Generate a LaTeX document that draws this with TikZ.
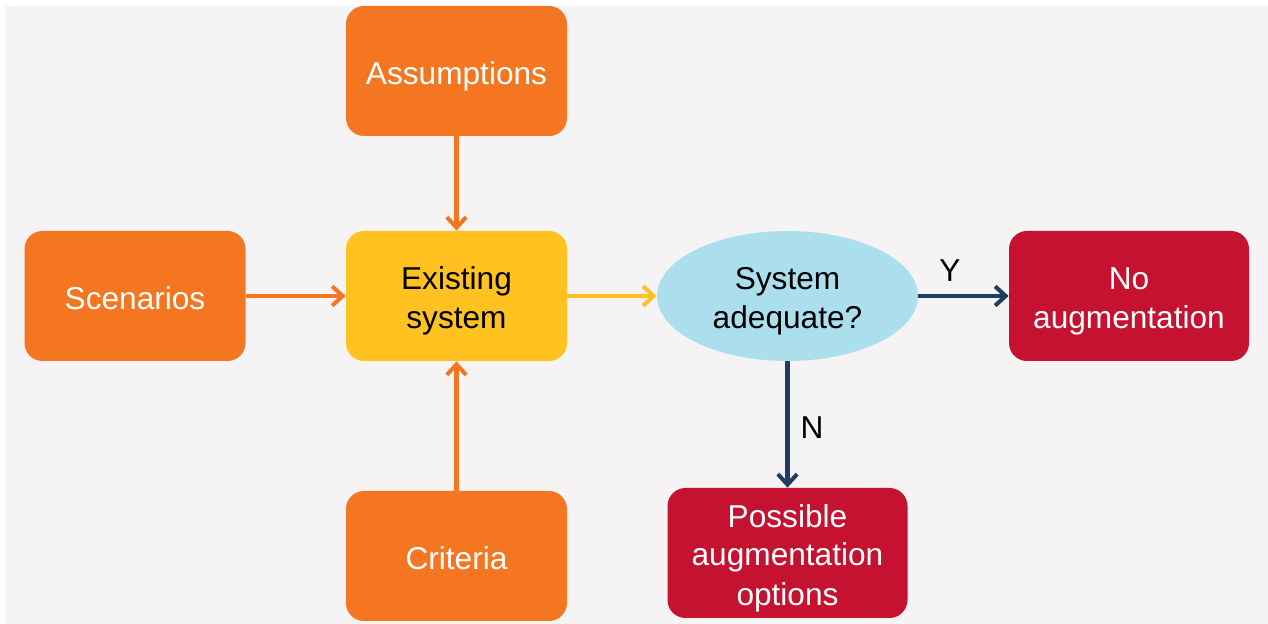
\documentclass[tikz,border=0pt]{standalone}
\usepackage{fontspec}
\setmainfont{Liberation Sans}
\usepackage{array}
\usepackage{tikz}
\usetikzlibrary{shapes,arrows.meta}
\definecolor{InOrange}{RGB}{244,118,33}
\definecolor{SysYellow}{RGB}{255,194,33}
\definecolor{AskBlue}{RGB}{172,223,237}
\definecolor{OutRed}{RGB}{196,18,48}
\definecolor{FlowNavy}{RGB}{31,61,99}
\definecolor{BackGray}{RGB}{246,243,244}
% one strut per line, so text is centred on its line box
\newcommand{\flowstrut}{\rule[-3.35pt]{0pt}{22pt}}
\newcommand{\flowtext}[1]{{\renewcommand{\arraystretch}{0}\begin{tabular}{@{}>{\flowstrut}c@{}}#1\end{tabular}}}

\begin{document}
\begin{tikzpicture}
				\useasboundingbox (0,0) rectangle (25.36,-12.48);
				\fill[BackGray] (0.1,-0.12) rectangle (25.36,-12.48);
				\tikzstyle{every node}=[shape=rectangle, rounded corners=0.36cm, inner sep=0pt, minimum width=4.42cm, minimum height=2.6cm, font=\fontsize{18}{21.6}\selectfont];
				\tikzstyle{flow}=[line width=2.3pt, -{Straight Barb[length=6pt,width=11pt]}];
				\node [fill=InOrange, text=white] (assump) at (9.13,-1.42) {\flowtext{Assumptions}};
				\node [fill=InOrange, text=white] (scen) at (2.70,-5.92) {\flowtext{Scenarios}};
				\node [fill=SysYellow] (exist) at (9.13,-5.92) {\flowtext{Existing\\system}};
				\node [fill=InOrange, text=white] (crit) at (9.13,-11.12) {\flowtext{Criteria}};
				\node [fill=AskBlue, shape=ellipse, minimum width=5.22cm] (adeq) at (15.75,-5.92) {\flowtext{System\\adequate?}};
				\node [fill=OutRed, text=white, minimum width=4.8cm] (noaug) at (22.58,-5.92) {\flowtext{No\\augmentation}};
				\node [fill=OutRed, text=white, minimum width=4.8cm] (posaug) at (15.75,-11.06) {\flowtext{Possible\\augmentation\\options}};
				\draw[flow, InOrange] (assump) -- (exist);
				\draw[flow, InOrange] (scen) -- (exist);
				\draw[flow, InOrange] (crit) -- (exist);
				\draw[flow, SysYellow] (exist) -- (adeq);
				\draw[flow, FlowNavy] (adeq) -- (noaug);
				\draw[flow, FlowNavy] (adeq) -- (posaug);
				\node [minimum width=0pt, minimum height=0pt] (ylab) at (19.0,-5.37) {\flowtext{Y}};
				\node [minimum width=0pt, minimum height=0pt] (nlab) at (16.24,-8.51) {\flowtext{N}};
			\end{tikzpicture}
\end{document}
